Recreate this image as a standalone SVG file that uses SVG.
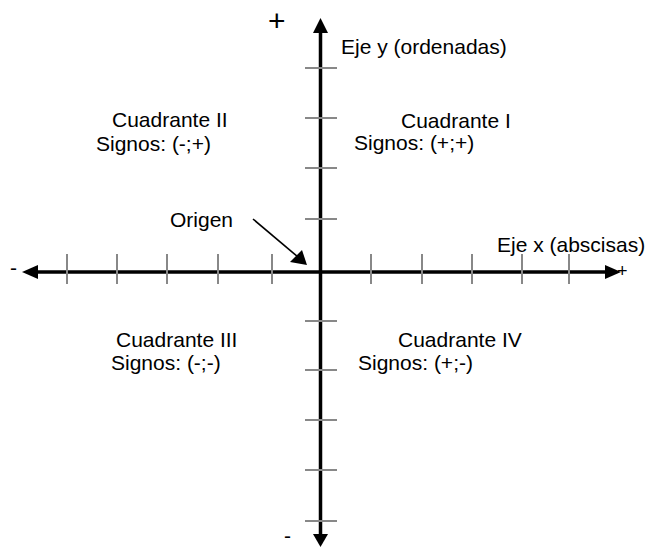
<svg xmlns="http://www.w3.org/2000/svg" width="649" height="547" viewBox="0 0 649 547">
<style>
text{font-family:"Liberation Sans",Arial,sans-serif;font-size:21px;fill:#000}
.axis{stroke:#000;stroke-width:3.5;fill:none}
.tick{stroke:#888;stroke-width:2;fill:none}
.head{fill:#000;stroke:none}
</style>
<rect width="649" height="547" fill="#fff"/>
<g id="connectors">
<g id="x-axis">
<line class="axis" x1="36" y1="272" x2="607" y2="272"/>
<polygon class="head" points="22,272 38,265 38,279"/>
<polygon class="head" points="621,272 605,265 605,279"/>
</g>
<g id="y-axis">
<line class="axis" x1="320.5" y1="31" x2="320.5" y2="537"/>
<polygon class="head" points="320.5,18 313,33 328,33"/>
<polygon class="head" points="320.5,547 313,534 328,534"/>
</g>
<g id="x-ticks">
<line class="tick" x1="67" y1="254" x2="67" y2="284"/>
<line class="tick" x1="117" y1="254" x2="117" y2="284"/>
<line class="tick" x1="167" y1="254" x2="167" y2="284"/>
<line class="tick" x1="218" y1="254" x2="218" y2="284"/>
<line class="tick" x1="272" y1="254" x2="272" y2="284"/>
<line class="tick" x1="371" y1="254" x2="371" y2="284"/>
<line class="tick" x1="422" y1="254" x2="422" y2="284"/>
<line class="tick" x1="472" y1="254" x2="472" y2="284"/>
<line class="tick" x1="522" y1="254" x2="522" y2="284"/>
<line class="tick" x1="569" y1="254" x2="569" y2="284"/>
</g>
<g id="y-ticks">
<line class="tick" x1="305" y1="68" x2="337" y2="68"/>
<line class="tick" x1="305" y1="118" x2="337" y2="118"/>
<line class="tick" x1="305" y1="168" x2="337" y2="168"/>
<line class="tick" x1="305" y1="219" x2="337" y2="219"/>
<line class="tick" x1="305" y1="321" x2="337" y2="321"/>
<line class="tick" x1="305" y1="370" x2="337" y2="370"/>
<line class="tick" x1="305" y1="420" x2="337" y2="420"/>
<line class="tick" x1="305" y1="470" x2="337" y2="470"/>
<line class="tick" x1="305" y1="521" x2="337" y2="521"/>
</g>
<g id="origin-arrow">
<line x1="253" y1="219" x2="298" y2="257" stroke="#000" stroke-width="1.6"/>
<polygon class="head" points="307,265 290,262 302,250"/>
</g>
</g>
<g id="label-plus-top"><text x="268" y="31" style="font-size:30px">+</text></g>
<g id="label-minus-left"><text x="10" y="275">-</text></g>
<g id="label-plus-right"><text x="617" y="277" style="font-size:18px">+</text></g>
<g id="label-minus-bottom"><text x="284" y="543">-</text></g>
<g id="label-eje-y"><text x="341" y="54">Eje y (ordenadas)</text></g>
<g id="label-eje-x"><text x="497" y="252">Eje x (abscisas)</text></g>
<g id="label-origen"><text x="170" y="227">Origen</text></g>
<g id="cuadrante-ii"><text x="112" y="127">Cuadrante II</text><text x="96" y="151">Signos: (-;+)</text></g>
<g id="cuadrante-i"><text x="401" y="128">Cuadrante I</text><text x="354" y="150">Signos: (+;+)</text></g>
<g id="cuadrante-iii"><text x="116" y="347">Cuadrante III</text><text x="111" y="370">Signos: (-;-)</text></g>
<g id="cuadrante-iv"><text x="398" y="347">Cuadrante IV</text><text x="358" y="370">Signos: (+;-)</text></g>
</svg>
